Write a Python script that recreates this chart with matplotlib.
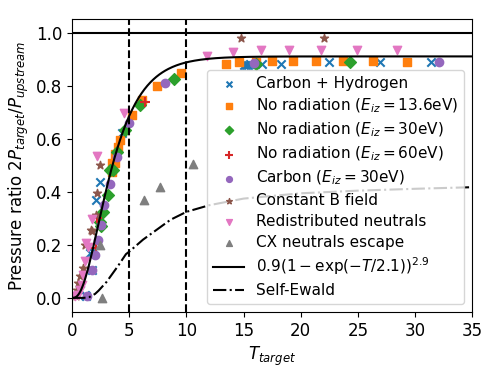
import numpy as np
import matplotlib
matplotlib.use('Agg')
import matplotlib.pyplot as plt

plt.rcParams['font.size'] = 12

# Carbon + Hydrogen
ch_T = [0.67, 1.14, 1.25, 1.55, 1.72, 1.84, 2.1, 2.45, 4.35, 15.0, 15.2, 15.4, 15.6, 16.6, 18.3, 22.5, 26.9, 31.4]
ch_P = [0.031, 0.012, 0.006, 0.17, 0.107, 0.175, 0.37, 0.439, 0.621, 0.878, 0.88, 0.878, 0.882, 0.885, 0.885, 0.89, 0.89, 0.89]
# No radiation 13.6 eV
nr13_T = [3.47, 3.47, 3.73, 3.76, 4.0, 4.2, 5.2, 6.1, 7.4, 9.5, 13.5, 14.6, 16.1, 17.5, 19.3, 21.3, 23.7, 26.3, 29.3]
nr13_P = [0.477, 0.508, 0.508, 0.543, 0.57, 0.596, 0.69, 0.747, 0.80, 0.85, 0.885, 0.89, 0.89, 0.895, 0.895, 0.895, 0.895, 0.895, 0.89]
# No radiation 30 eV
nr30_T = [2.42, 2.5, 2.7, 3.12, 3.3, 3.56, 3.9, 4.6, 5.95, 8.9, 16.1, 24.3]
nr30_P = [0.288, 0.27, 0.326, 0.389, 0.483, 0.483, 0.552, 0.633, 0.73, 0.825, 0.885, 0.89]
# No radiation 60 eV
nr60_T = [2.1, 2.13, 6.4]
nr60_P = [0.188, 0.30, 0.74]
# Carbon 30 eV
c30_T = [1.3, 1.72, 2.0, 2.3, 2.54, 2.8, 3.27, 3.9, 5.0, 8.1, 15.9, 32.1]
c30_P = [0.006, 0.107, 0.163, 0.22, 0.276, 0.35, 0.43, 0.533, 0.66, 0.81, 0.887, 0.89]
# Constant B field
cb_T = [0.29, 0.38, 0.52, 0.67, 0.93, 1.14, 1.63, 1.69, 2.1, 2.16, 2.39, 14.8, 22.0]
cb_P = [0.006, 0.031, 0.057, 0.081, 0.113, 0.2, 0.257, 0.251, 0.314, 0.395, 0.502, 0.98, 0.983]
# Redistributed neutrals
rn_T = [0.26, 0.52, 0.7, 0.82, 0.96, 1.1, 1.25, 1.37, 1.72, 2.15, 4.5, 11.8, 14.1, 16.5, 19.0, 21.8, 24.9, 28.4]
rn_P = [0.006, 0.012, 0.03, 0.05, 0.088, 0.138, 0.207, 0.194, 0.297, 0.536, 0.70, 0.915, 0.93, 0.935, 0.935, 0.935, 0.935, 0.935]
# CX neutrals escape
cx_T = [2.6, 2.45, 6.3, 7.7, 10.6]
cx_P = [0.0, 0.2, 0.37, 0.42, 0.505]

# Self-Ewald curve
se_T = [0, 1.0, 1.5, 2.0, 2.3, 3.0, 4.0, 4.7, 5.0, 6.2, 7.0, 8.6, 10.0, 12.0, 15.0, 20.0, 25.0, 30.0, 35.0]
se_P = [0, 0.0, 0.003, 0.015, 0.027, 0.06, 0.12, 0.165, 0.175, 0.22, 0.245, 0.295, 0.325, 0.35, 0.375, 0.395, 0.405, 0.412, 0.418]

fig = plt.figure(figsize=(4.98, 3.74), dpi=100)
ax = fig.add_axes([0.145, 0.166, 0.803, 0.783])

ax.axhline(1.0, color='k', lw=1.5)
ax.axvline(5, color='k', ls='--', lw=1.5)
ax.axvline(10, color='k', ls='--', lw=1.5)

ax.scatter(ch_T, ch_P, marker='x', color='C0', label='Carbon + Hydrogen')
ax.scatter(nr13_T, nr13_P, marker='s', color='C1', label=r'No radiation ($E_{iz} = 13.6$eV)')
ax.scatter(nr30_T, nr30_P, marker='D', color='C2', label=r'No radiation ($E_{iz} = 30$eV)')
ax.scatter(nr60_T, nr60_P, marker='+', color='C3', s=60, label=r'No radiation ($E_{iz} = 60$eV)')
ax.scatter(c30_T, c30_P, marker='o', color='C4', label=r'Carbon ($E_{iz} = 30$eV)')
ax.scatter(cb_T, cb_P, marker='*', color='C5', label='Constant B field')
ax.scatter(rn_T, rn_P, marker='v', color='C6', label='Redistributed neutrals')
ax.scatter(cx_T, cx_P, marker='^', color='C7', label='CX neutrals escape')

T = np.linspace(0, 35, 400)
ax.plot(T, 0.912 * (1 - np.exp(-T / 2.1))**2.9, 'k-', lw=1.5,
        label=r'$0.9(1-\exp(-T/2.1))^{2.9}$')
ax.plot(se_T, se_P, 'k-.', lw=1.5, label='Self-Ewald')

ax.set_xlim(0, 35)
ax.set_ylim(-0.053, 1.053)
ax.set_xlabel(r'$T_{target}$')
ax.set_ylabel(r'Pressure ratio $2P_{target}/P_{upstream}$')
ax.legend(loc='lower right', markerscale=0.7, fontsize=11, labelspacing=0.38)

fig.savefig('out.png', dpi=100)
